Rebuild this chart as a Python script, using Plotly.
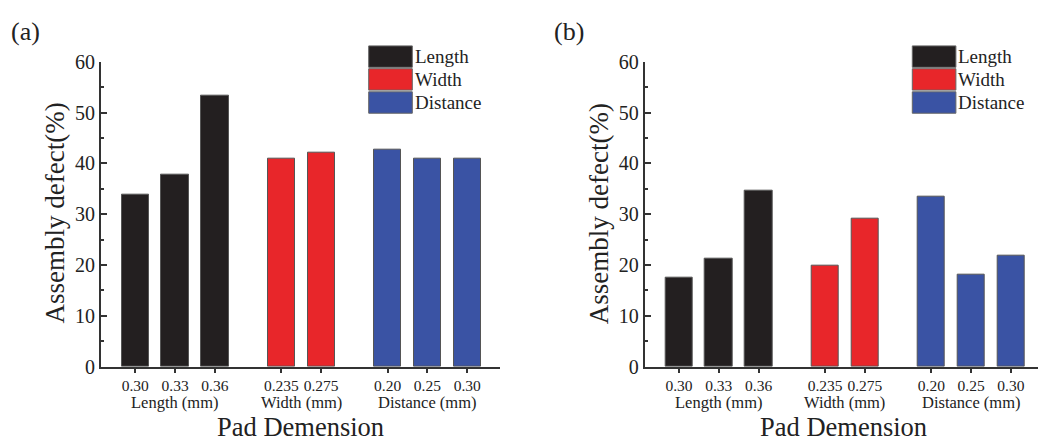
import plotly.graph_objects as go

# ---- data ----
groups = ["Length", "Width", "Distance"]
group_titles = ["Length (mm)", "Width (mm)", "Distance (mm)"]
length_labels = ["0.30", "0.33", "0.36"]
width_labels = ["0.235", "0.275"]
distance_labels = ["0.20", "0.25", "0.30"]

a_length = [33.9, 37.7, 53.3]
a_width = [41.0, 42.0]
a_distance = [42.7, 41.0, 41.0]

b_length = [17.6, 21.3, 34.55]
b_width = [19.9, 29.1]
b_distance = [33.4, 18.15, 21.9]

colors = {"Length": "#231f20", "Width": "#e8262a", "Distance": "#3a53a4"}
FONT = "Liberation Serif"
TXT = "#222222"
W, H = 1038, 448

labels_by_group = [length_labels, width_labels, distance_labels]
group_gap = 0.67

# positions: index within group + offset of group
positions = []
start = 0.0
for gi, labs in enumerate(labels_by_group):
    positions.append([start + k for k in range(len(labs))])
    start += len(labs) + group_gap

def px_x(p):
    return p / W

def px_y(p):
    return (H - p) / H

fig = go.Figure()

panels = [
    dict(vals=[a_length, a_width, a_distance], xa="x", ya="y", ax_left=101, ax_right=500, tag="(a)", tag_x=25,
         leg_x0=368.7),
    dict(vals=[b_length, b_width, b_distance], xa="x2", ya="y2", ax_left=644.7, ax_right=1038, tag="(b)", tag_x=569,
         leg_x0=912.3),
]

unit = 39.8  # px per bar position
first_offset = 34.3  # px from axis to first bar centre

annotations = []
shapes = []
for pi, pnl in enumerate(panels):
    for gi, g in enumerate(groups):
        fig.add_trace(go.Bar(
            x=positions[gi], y=pnl["vals"][gi], xaxis=pnl["xa"], yaxis=pnl["ya"],
            marker=dict(color=colors[g], line=dict(color="#555555", width=1)),
            width=0.685, showlegend=False, name=g,
        ))
    sfx = "" if pi == 0 else "2"
    left = pnl["ax_left"]; right = pnl["ax_right"]
    r0 = -first_offset / unit
    r1 = r0 + (right - left) / unit
    allpos = [p for grp in positions for p in grp]
    alllab = [l for grp in labels_by_group for l in grp]
    fig.update_layout(**{
        "xaxis" + sfx: dict(
            domain=[px_x(left), min(1.0, px_x(right))], range=[r0, r1], anchor="y" + sfx,
            tickmode="array", tickvals=allpos, ticktext=alllab, tickangle=0,
            ticks="outside", ticklen=4, tickwidth=1.5, tickcolor="#333333",
            showline=True, linecolor="#333333", linewidth=2, showgrid=False, zeroline=False,
            tickfont=dict(family=FONT, size=15.5, color=TXT),
        ),
        "yaxis" + sfx: dict(
            domain=[px_y(374), px_y(53.3)], range=[0, 60], anchor="x" + sfx,
            tickmode="array", tickvals=[0, 10, 20, 30, 40, 50, 60],
            ticks="inside", ticklen=6, tickwidth=1.5, tickcolor="#333333",
            minor=dict(tickvals=[5, 15, 25, 35, 45, 55], ticks="inside", ticklen=3, tickwidth=1.5, tickcolor="#333333"),
            showline=True, linecolor="#333333", linewidth=2, showgrid=False, zeroline=False,
            tickfont=dict(family=FONT, size=20, color=TXT),
        ),
    })
    # group titles
    for gi, t in enumerate(group_titles):
        cx = sum(positions[gi]) / len(positions[gi])
        annotations.append(dict(x=cx, y=px_y(412), xref="x" + sfx, yref="paper", text=t, showarrow=False,
                                font=dict(family=FONT, size=16.5, color=TXT), xanchor="center", yanchor="middle",
                                borderpad=0))
    # x title
    annotations.append(dict(x=px_x(left + 199), y=px_y(437), xref="paper", yref="paper", text="Pad Demension",
                            showarrow=False, font=dict(family=FONT, size=26.5, color=TXT),
                            xanchor="center", yanchor="middle", borderpad=0))
    # y title
    annotations.append(dict(x=px_x(left - 46), y=px_y(213), xref="paper", yref="paper", text="Assembly defect(%)",
                            showarrow=False, textangle=-90, font=dict(family=FONT, size=27, color=TXT),
                            xanchor="center", yanchor="middle"))
    # panel tag
    annotations.append(dict(x=px_x(pnl["tag_x"]), y=px_y(22), xref="paper", yref="paper", text=pnl["tag"],
                            showarrow=False, font=dict(family=FONT, size=26, color=TXT),
                            xanchor="center", yanchor="middle"))
    # legend (drawn)
    box_tops = [36.7, 60.7, 85.0]
    for gi, g in enumerate(groups):
        y0 = box_tops[gi]; y1 = y0 + 22.5
        shapes.append(dict(type="rect", xref="paper", yref="paper",
                           x0=px_x(pnl["leg_x0"]), x1=px_x(pnl["leg_x0"] + 43.6),
                           y0=px_y(y1), y1=px_y(y0), fillcolor=colors[g],
                           line=dict(color="#666666", width=1)))
        annotations.append(dict(x=px_x(pnl["leg_x0"] + 45), y=px_y((y0 + y1) / 2), xref="paper", yref="paper",
                                text=g, showarrow=False, font=dict(family=FONT, size=19, color=TXT),
                                xanchor="left", yanchor="middle", borderpad=0))

fig.update_layout(
    width=W, height=H, margin=dict(l=0, r=0, t=0, b=0),
    paper_bgcolor="white", plot_bgcolor="white",
    annotations=annotations, shapes=shapes, bargap=0,
    showlegend=False,
)

fig.write_html("out.html", config={"displayModeBar": False},
               post_script="document.body.style.margin='0';document.body.style.overflow='hidden';")
